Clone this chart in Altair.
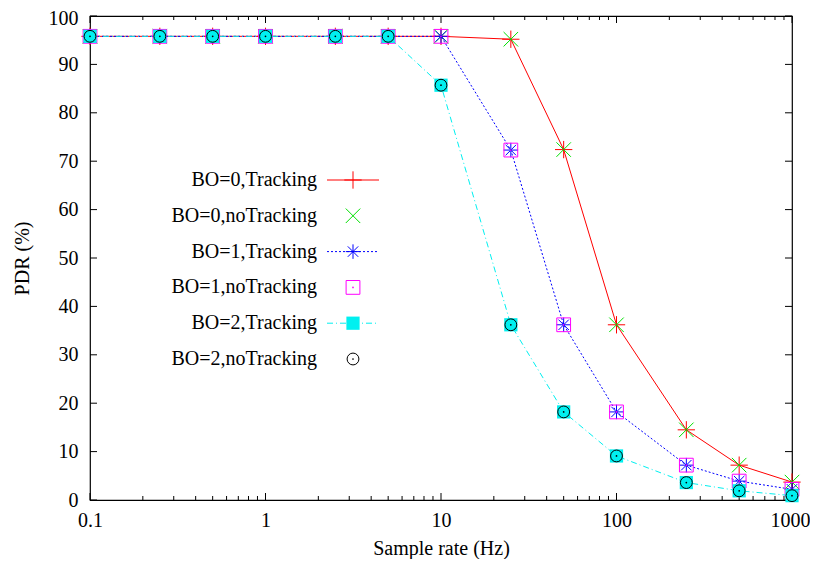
import altair as alt
import pandas as pd

# ---------------- data ----------------
rates = [0.1, 0.25, 0.5, 1, 2.5, 5, 10, 25, 50, 100, 250, 500, 1000]
pdr_bo0_tracking = [95.8, 95.8, 95.8, 95.8, 95.8, 95.8, 95.8, 95.2, 72.4, 36.2, 14.5, 7.2, 3.7]
pdr_bo0_notracking = [95.8, 95.8, 95.8, 95.8, 95.8, 95.8, 95.8, 95.2, 72.4, 36.2, 14.5, 7.2, 3.7]
pdr_bo1_tracking = [95.8, 95.8, 95.8, 95.8, 95.8, 95.8, 95.8, 72.3, 36.2, 18.2, 7.2, 3.9, 2.2]
pdr_bo1_notracking = [95.8, 95.8, 95.8, 95.8, 95.8, 95.8, 95.8, 72.3, 36.2, 18.2, 7.2, 3.9, 2.2]
pdr_bo2_tracking = [95.8, 95.8, 95.8, 95.8, 95.8, 95.8, 85.7, 36.2, 18.2, 9.1, 3.6, 1.9, 0.9]
pdr_bo2_notracking = [95.8, 95.8, 95.8, 95.8, 95.8, 95.8, 85.7, 36.2, 18.2, 9.1, 3.6, 1.9, 0.9]

series_names = ["BO=0,Tracking", "BO=0,noTracking", "BO=1,Tracking",
                "BO=1,noTracking", "BO=2,Tracking", "BO=2,noTracking"]
series_values = [pdr_bo0_tracking, pdr_bo0_notracking, pdr_bo1_tracking,
                 pdr_bo1_notracking, pdr_bo2_tracking, pdr_bo2_notracking]

x_major = [0.1, 1, 10, 100, 1000]
x_minor = [0.2, 0.3, 0.4, 0.5, 0.6, 0.7, 0.8, 0.9,
           2, 3, 4, 5, 6, 7, 8, 9,
           20, 30, 40, 50, 60, 70, 80, 90,
           200, 300, 400, 500, 600, 700, 800, 900]
y_ticks = [0, 10, 20, 30, 40, 50, 60, 70, 80, 90, 100]

# ---------------- styles ----------------
FONT = "Liberation Serif, Times New Roman, serif"
FS = 20
W, H = 702, 484

PLUS = "M-1,0L1,0M0,-1L0,1"
CROSS = "M-1,-1L1,1M-1,1L1,-1"
STAR = "M-1,0L1,0M0,-1L0,1M-0.72,-0.72L0.72,0.72M-0.72,0.72L0.72,-0.72"

styles = [
    dict(color="#ff0000", shape=PLUS, size=300, filled=False, dash=[], line=True, dot=None),
    dict(color="#00e000", shape=CROSS, size=210, filled=False, dash=None, line=False, dot=None),
    dict(color="#0000ff", shape=STAR, size=210, filled=False, dash=[2, 2], line=True, dot="#0000ff"),
    dict(color="#ff00ff", shape="square", size=190, filled=False, dash=None, line=False, dot="#ff00ff"),
    dict(color="#00f0f0", shape="square", size=175, filled=True, dash=[6, 3, 1, 3], line=True, dot=None),
    dict(color="#000000", shape="circle", size=140, filled=False, dash=None, line=False, dot="#000000"),
]

X = alt.X("rate:Q",
          scale=alt.Scale(type="log", domain=[0.1, 1000], nice=False),
          axis=alt.Axis(values=x_major, format="~g", ticks=False, tickSize=0,
                        domain=False, grid=False, labelFlush=False, labelOverlap=False,
                        labelOffset={"condition": {"test": "datum.value >= 1000", "value": -2},
                                     "value": 0},
                        labelFont=FONT, labelFontSize=FS, labelColor="black",
                        labelPadding=10, title="Sample rate (Hz)", titleFont=FONT,
                        titleFontSize=FS, titleFontWeight="normal", titleColor="black",
                        titlePadding=8))
Y = alt.Y("pdr:Q",
          scale=alt.Scale(domain=[0, 100], nice=False),
          axis=alt.Axis(values=y_ticks, ticks=False, tickSize=0, domain=False, grid=False,
                        labelFlush=False, labelOverlap=False,
                        labelOffset={"condition": {"test": "datum.value >= 100", "value": 2},
                                     "value": 0},
                        labelFont=FONT, labelFontSize=FS, labelColor="black",
                        labelPadding=12, title="PDR (%)", titleFont=FONT,
                        titleFontSize=FS, titleFontWeight="normal", titleColor="black",
                        titlePadding=16))

layers = []

# inward tick marks (gnuplot style) drawn through the scales
xmaj = pd.DataFrame({"rate": x_major})
xmin = pd.DataFrame({"rate": x_minor})
ydf = pd.DataFrame({"pdr": y_ticks})
tick = dict(color="black", strokeWidth=1)
layers += [
    alt.Chart(xmaj).mark_rule(**tick).encode(x=X, y=alt.value(H), y2=alt.value(H - 7)),
    alt.Chart(xmaj).mark_rule(**tick).encode(x=X, y=alt.value(0), y2=alt.value(7)),
    alt.Chart(xmin).mark_rule(**tick).encode(x=X, y=alt.value(H), y2=alt.value(H - 4)),
    alt.Chart(xmin).mark_rule(**tick).encode(x=X, y=alt.value(0), y2=alt.value(4)),
    alt.Chart(ydf).mark_rule(**tick).encode(y=Y, x=alt.value(0), x2=alt.value(7)),
    alt.Chart(ydf).mark_rule(**tick).encode(y=Y, x=alt.value(W - 7), x2=alt.value(W)),
]

def point_mark(st):
    return dict(shape=st["shape"], size=st["size"], filled=st["filled"], opacity=1,
                color=st["color"], strokeWidth=1)

# data series
for name, vals, st in zip(series_names, series_values, styles):
    df = pd.DataFrame({"rate": rates, "pdr": vals, "series": name})
    if st["line"]:
        lk = dict(color=st["color"], strokeWidth=1)
        if st["dash"]:
            lk["strokeDash"] = st["dash"]
        layers.append(alt.Chart(df).mark_line(**lk).encode(x=X, y=Y))
    layers.append(alt.Chart(df).mark_point(**point_mark(st)).encode(x=X, y=Y))
    if st["dot"]:
        layers.append(alt.Chart(df).mark_point(shape="circle", size=3, filled=True, opacity=1,
                                               color=st["dot"]).encode(x=X, y=Y))

# in-plot key: label on the left, sample on the right
KEY_TEXT_X, KEY_LINE_X0, KEY_LINE_X1, KEY_SYM_X = 227, 237, 289, 263
KEY_Y0, KEY_DY = 164, 35.8
for i, (name, st) in enumerate(zip(series_names, styles)):
    ky = KEY_Y0 + KEY_DY * i
    kd = pd.DataFrame({"label": [name]})
    layers.append(alt.Chart(kd).mark_text(align="right", baseline="middle", font=FONT,
                                          fontSize=FS, color="black")
                  .encode(text="label:N", x=alt.value(KEY_TEXT_X), y=alt.value(ky)))
    if st["line"]:
        lk = dict(color=st["color"], strokeWidth=1)
        if st["dash"]:
            lk["strokeDash"] = st["dash"]
        layers.append(alt.Chart(kd).mark_rule(**lk).encode(
            x=alt.value(KEY_LINE_X0), x2=alt.value(KEY_LINE_X1), y=alt.value(ky)))
    layers.append(alt.Chart(kd).mark_point(**point_mark(st)).encode(
        x=alt.value(KEY_SYM_X), y=alt.value(ky)))
    if st["dot"]:
        layers.append(alt.Chart(kd).mark_point(shape="circle", size=3, filled=True, opacity=1,
                                               color=st["dot"]).encode(
            x=alt.value(KEY_SYM_X), y=alt.value(ky)))

chart = alt.layer(*layers).properties(
    width=W, height=H,
    autosize=alt.AutoSizeParams(type="none"),
    padding={"left": 82, "top": 8, "right": 18, "bottom": 59},
).configure_view(stroke="black", strokeWidth=1.2)

chart.save("out.html", embed_options={"renderer": "svg", "actions": False})
